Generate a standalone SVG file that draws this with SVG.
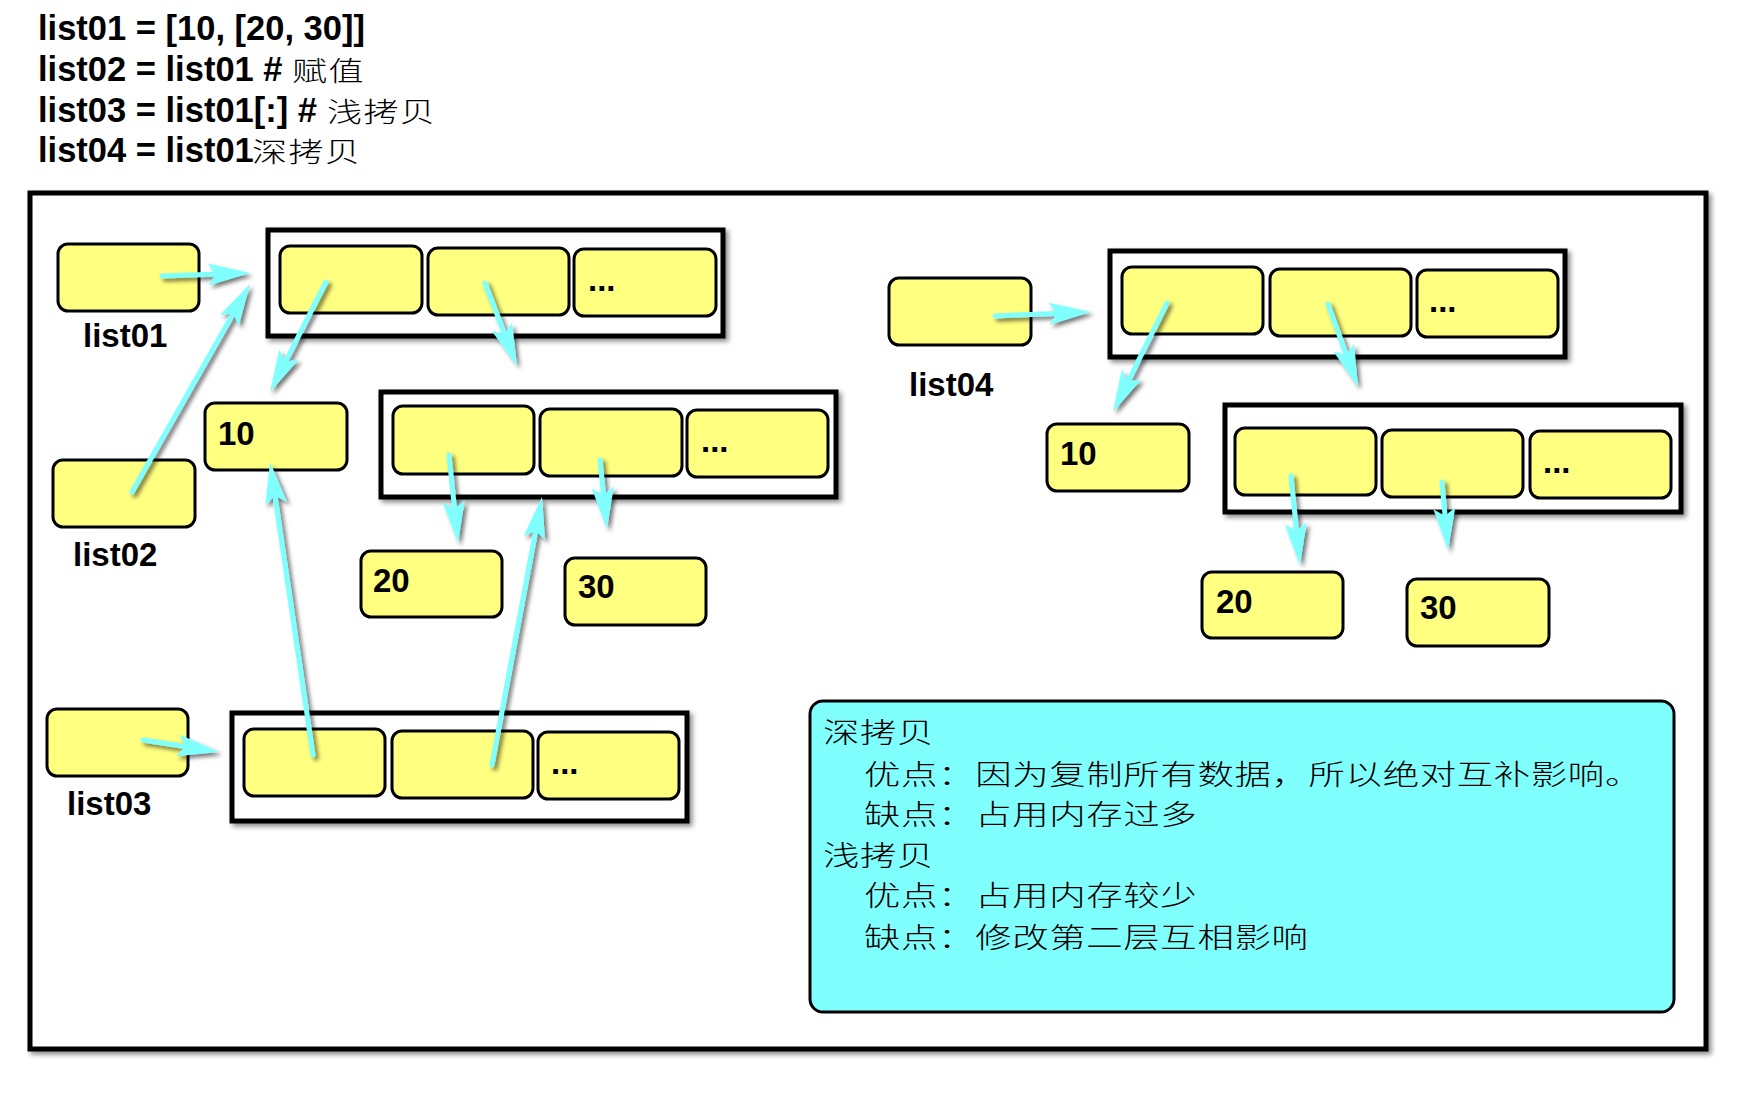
<svg xmlns="http://www.w3.org/2000/svg" width="1755" height="1110" viewBox="0 0 1755 1110">
<defs>
<style>
.code{font-family:"Liberation Sans",Arial,sans-serif;font-weight:bold;font-size:34.5px;fill:#000}
.cjk{font-family:"Noto Sans CJK SC",sans-serif;font-weight:300;font-size:27px;letter-spacing:1px;fill:#000}
.lbl{font-family:"Liberation Sans",Arial,sans-serif;font-weight:bold;font-size:33px;fill:#000}
.cell{fill:#FFFF80;stroke:#000;stroke-width:3}
.cont{fill:#fff;stroke:#000;stroke-width:5}
.info{fill:#80FFFF;stroke:#000;stroke-width:3}
.itxt{font-family:"Noto Sans CJK SC",sans-serif;font-weight:300;font-size:28px;letter-spacing:0.5px;fill:#000}
.arr{stroke:#80FFFF;stroke-width:5;stroke-linecap:round;fill:none;marker-end:url(#ah)}
</style>
<filter id="sh" x="-5%" y="-5%" width="115%" height="120%">
<feDropShadow dx="3" dy="3" stdDeviation="2.5" flood-color="#000" flood-opacity="0.45"/>
</filter>
<filter id="ash" x="-20%" y="-20%" width="150%" height="150%">
<feDropShadow dx="3" dy="3" stdDeviation="2" flood-color="#000" flood-opacity="0.55"/>
</filter>
<marker id="ah" markerUnits="userSpaceOnUse" markerWidth="80" markerHeight="40" viewBox="0 0 80 40" refX="40" refY="20" orient="auto" overflow="visible">
<path d="M70,20 L28,9 L36,20 L28,31 Z" fill="#80FFFF"/>
</marker>
</defs>
<rect width="1755" height="1110" fill="#fff"/>

<g id="code">
<text class="code" x="38" y="40">list01 = [10, [20, 30]]</text>
<text class="code" x="38" y="81">list02 = list01 #</text>
<text class="cjk" transform="translate(292,81) scale(1.3,1)">赋值</text>
<text class="code" x="38" y="122">list03 = list01[:] #</text>
<text class="cjk" transform="translate(327,122) scale(1.3,1)">浅拷贝</text>
<text class="code" x="38" y="162">list04 = list01</text>
<text class="cjk" transform="translate(252,162) scale(1.3,1)">深拷贝</text>
</g>

<g id="frame">
<rect x="30" y="193" width="1676" height="856" fill="#fff" stroke="#000" stroke-width="5" filter="url(#sh)"/>
</g>

<g id="list01">
<rect class="cell" x="58" y="244" width="141" height="67" rx="10"/>
<text class="lbl" x="83" y="347">list01</text>
</g>
<g id="list02">
<rect class="cell" x="53" y="460" width="142" height="67" rx="10"/>
<text class="lbl" x="73" y="566">list02</text>
</g>
<g id="list03">
<rect class="cell" x="47" y="709" width="141" height="67" rx="10"/>
<text class="lbl" x="67" y="815">list03</text>
</g>
<g id="list04">
<rect class="cell" x="889" y="278" width="142" height="67" rx="10"/>
<text class="lbl" x="909" y="396">list04</text>
</g>

<g id="outer-list-a">
<rect class="cont" x="268" y="230" width="455" height="106" filter="url(#sh)"/>
<rect class="cell" x="280" y="246" width="142" height="67" rx="10"/>
<rect class="cell" x="428" y="248" width="141" height="67" rx="10"/>
<rect class="cell" x="574" y="249" width="142" height="67" rx="10"/>
<text class="lbl" x="588" y="291">...</text>
</g>

<g id="inner-list-a">
<rect class="cont" x="381" y="392" width="455" height="105" filter="url(#sh)"/>
<rect class="cell" x="393" y="406" width="141" height="68" rx="10"/>
<rect class="cell" x="540" y="409" width="142" height="67" rx="10"/>
<rect class="cell" x="687" y="410" width="141" height="67" rx="10"/>
<text class="lbl" x="701" y="452">...</text>
</g>

<g id="outer-list-b">
<rect class="cont" x="232" y="713" width="455" height="108" filter="url(#sh)"/>
<rect class="cell" x="244" y="729" width="141" height="67" rx="10"/>
<rect class="cell" x="392" y="731" width="141" height="67" rx="10"/>
<rect class="cell" x="538" y="732" width="141" height="67" rx="10"/>
<text class="lbl" x="551" y="774">...</text>
</g>

<g id="outer-list-c">
<rect class="cont" x="1110" y="251" width="455" height="106" filter="url(#sh)"/>
<rect class="cell" x="1122" y="267" width="141" height="67" rx="10"/>
<rect class="cell" x="1270" y="269" width="141" height="67" rx="10"/>
<rect class="cell" x="1417" y="270" width="141" height="67" rx="10"/>
<text class="lbl" x="1429" y="312">...</text>
</g>

<g id="inner-list-c">
<rect class="cont" x="1225" y="405" width="456" height="107" filter="url(#sh)"/>
<rect class="cell" x="1235" y="428" width="141" height="67" rx="10"/>
<rect class="cell" x="1382" y="430" width="141" height="67" rx="10"/>
<rect class="cell" x="1530" y="431" width="141" height="67" rx="10"/>
<text class="lbl" x="1543" y="473">...</text>
</g>

<g id="val10-left">
<rect class="cell" x="205" y="403" width="142" height="67" rx="10"/>
<text class="lbl" x="218" y="445">10</text>
</g>
<g id="val20-left">
<rect class="cell" x="361" y="551" width="141" height="66" rx="10"/>
<text class="lbl" x="373" y="592">20</text>
</g>
<g id="val30-left">
<rect class="cell" x="565" y="558" width="141" height="67" rx="10"/>
<text class="lbl" x="578" y="598">30</text>
</g>
<g id="val10-right">
<rect class="cell" x="1047" y="424" width="142" height="67" rx="10"/>
<text class="lbl" x="1060" y="465">10</text>
</g>
<g id="val20-right">
<rect class="cell" x="1202" y="572" width="141" height="66" rx="10"/>
<text class="lbl" x="1216" y="613">20</text>
</g>
<g id="val30-right">
<rect class="cell" x="1407" y="579" width="142" height="67" rx="10"/>
<text class="lbl" x="1420" y="619">30</text>
</g>

<g id="notes">
<rect class="info" x="810" y="701" width="864" height="311" rx="13"/>
<text class="itxt" transform="translate(823,743) scale(1.3,1)">深拷贝</text>
<text class="itxt" transform="translate(864,785) scale(1.3,1)">优点：因为复制所有数据，所以绝对互补影响。</text>
<text class="itxt" transform="translate(864,825) scale(1.3,1)">缺点：占用内存过多</text>
<text class="itxt" transform="translate(823,866) scale(1.3,1)">浅拷贝</text>
<text class="itxt" transform="translate(864,906) scale(1.3,1)">优点：占用内存较少</text>
<text class="itxt" transform="translate(864,948) scale(1.3,1)">缺点：修改第二层互相影响</text>
</g>

<g id="connectors" filter="url(#ash)">
<line class="arr" x1="162" y1="276" x2="220.0" y2="274.0"/>
<line class="arr" x1="132" y1="492" x2="235.2" y2="310.1"/>
<line class="arr" x1="326" y1="282" x2="283.6" y2="365.3"/>
<line class="arr" x1="485" y1="283" x2="506.2" y2="338.0"/>
<line class="arr" x1="449" y1="455" x2="455.0" y2="513.2"/>
<line class="arr" x1="600" y1="460" x2="604.0" y2="499.2"/>
<line class="arr" x1="143" y1="740" x2="189.4" y2="747.3"/>
<line class="arr" x1="313" y1="755" x2="274.4" y2="491.7"/>
<line class="arr" x1="492" y1="765" x2="536.5" y2="526.5"/>
<line class="arr" x1="995" y1="316" x2="1061.0" y2="313.2"/>
<line class="arr" x1="1167" y1="303" x2="1126.3" y2="385.1"/>
<line class="arr" x1="1328" y1="304" x2="1347.8" y2="358.8"/>
<line class="arr" x1="1291" y1="476" x2="1297.0" y2="535.1"/>
<line class="arr" x1="1442" y1="482" x2="1445.4" y2="520.1"/>
</g>
</svg>
